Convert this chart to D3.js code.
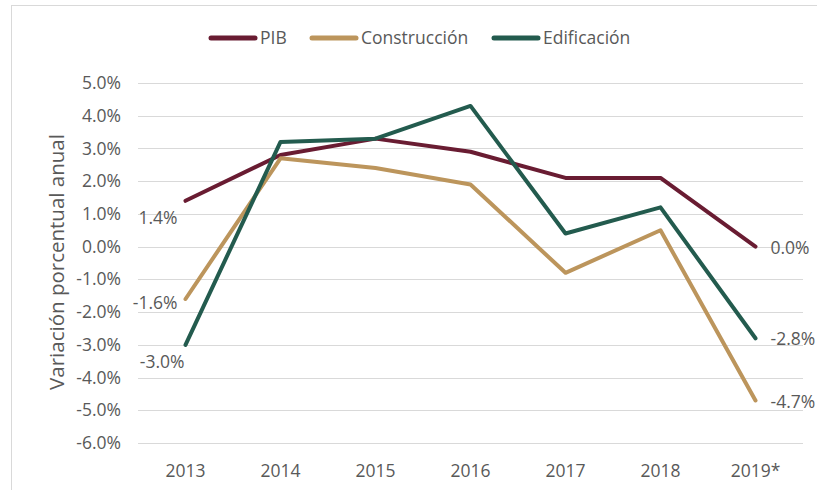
<!DOCTYPE html>
<html>
<head>
<meta charset="utf-8">
<script src="https://cdn.jsdelivr.net/npm/d3@7"></script>
<style>
body { margin: 0; background: #fff; }
text { font-family: "Open Sans", sans-serif; fill: #595959; }
</style>
</head>
<body>
<div id="chart"></div>
<script>
// years and yearly change (%) per series
var years = ["2013", "2014", "2015", "2016", "2017", "2018", "2019*"];
var pib = [1.4, 2.8, 3.3, 2.9, 2.1, 2.1, 0.0];
var construccion = [-1.6, 2.7, 2.4, 1.9, -0.8, 0.5, -4.7];
var edificacion = [-3.0, 3.2, 3.3, 4.3, 0.4, 1.2, -2.8];
var yTicks = [5, 4, 3, 2, 1, 0, -1, -2, -3, -4, -5, -6];

var series = [
	{name: "PIB", values: pib, color: "#691C32"},
	{name: "Construcción", values: construccion, color: "#BC955C"},
	{name: "Edificación", values: edificacion, color: "#235B4E"}
];

var width = 817, height = 490;
var svg = d3.select("#chart").append("svg")
	.attr("width", width)
	.attr("height", height);

// light frame round the chart
svg.append("rect")
	.attr("x", 11.5).attr("y", 5.5)
	.attr("width", 830).attr("height", 500)
	.attr("fill", "none")
	.attr("stroke", "#d9d9d9");

var x = d3.scaleBand().domain(years).range([138, 803]);
var y = d3.scaleLinear().domain([-6, 5]).range([443, 83]);

// gridlines
svg.append("g").selectAll("line")
	.data(yTicks)
	.enter().append("line")
	.attr("x1", 138).attr("x2", 803)
	.attr("y1", function(d){ return Math.round(y(d)) + 0.5; })
	.attr("y2", function(d){ return Math.round(y(d)) + 0.5; })
	.attr("stroke", "#d9d9d9")
	.attr("stroke-width", 1);

// y tick labels
svg.append("g").selectAll("text")
	.data(yTicks)
	.enter().append("text")
	.attr("x", 121)
	.attr("y", function(d){ return y(d); })
	.attr("dy", "0.35em")
	.attr("text-anchor", "end")
	.attr("font-size", 17.5)
	.text(function(d){ return d.toFixed(1) + "%"; });

// x tick labels
svg.append("g").selectAll("text")
	.data(years)
	.enter().append("text")
	.attr("x", function(d){ return x(d) + x.bandwidth() / 2; })
	.attr("y", 477)
	.attr("text-anchor", "middle")
	.attr("font-size", 17.5)
	.text(function(d){ return d; });

// y axis title
svg.append("text")
	.attr("transform", "translate(64,262) rotate(-90)")
	.attr("text-anchor", "middle")
	.attr("font-size", 20.5)
	.text("Variación porcentual anual");

var line = d3.line()
	.x(function(d, i){ return x(years[i]) + x.bandwidth() / 2; })
	.y(function(d){ return y(d); })
	.curve(d3.curveLinear);

series.forEach(function(s) {
	svg.append("path")
		.attr("d", line(s.values))
		.attr("stroke", s.color)
		.attr("stroke-width", 4)
		.attr("stroke-linecap", "round")
		.attr("stroke-linejoin", "round")
		.attr("fill", "none");
});

// data labels on first and last points
var firstOffsets = [{dx: -8, dy: 17}, {dx: -8, dy: 4}, {dx: -1, dy: 17}];
series.forEach(function(s, k) {
	var first = s.values[0], last = s.values[s.values.length - 1];
	svg.append("text")
		.attr("x", x(years[0]) + x.bandwidth() / 2 + firstOffsets[k].dx)
		.attr("y", y(first) + firstOffsets[k].dy)
		.attr("dy", "0.35em")
		.attr("text-anchor", "end")
		.attr("font-size", 17.5)
		.text(first.toFixed(1) + "%");
	svg.append("text")
		.attr("x", x(years[years.length - 1]) + x.bandwidth() / 2 + 15)
		.attr("y", y(last) + 1)
		.attr("dy", "0.35em")
		.attr("text-anchor", "start")
		.attr("font-size", 17.5)
		.text(last.toFixed(1) + "%");
});

// legend
var legendX = [209, 310, 492];
series.forEach(function(s, k) {
	var g = svg.append("g").attr("transform", "translate(" + legendX[k] + ",38)");
	g.append("line")
		.attr("x1", 2).attr("x2", 46)
		.attr("stroke", s.color)
		.attr("stroke-width", 5)
		.attr("stroke-linecap", "round");
	g.append("text")
		.attr("x", 51)
		.attr("dy", "0.35em")
		.attr("font-size", 17.5)
		.text(s.name);
});
</script>
</body>
</html>
